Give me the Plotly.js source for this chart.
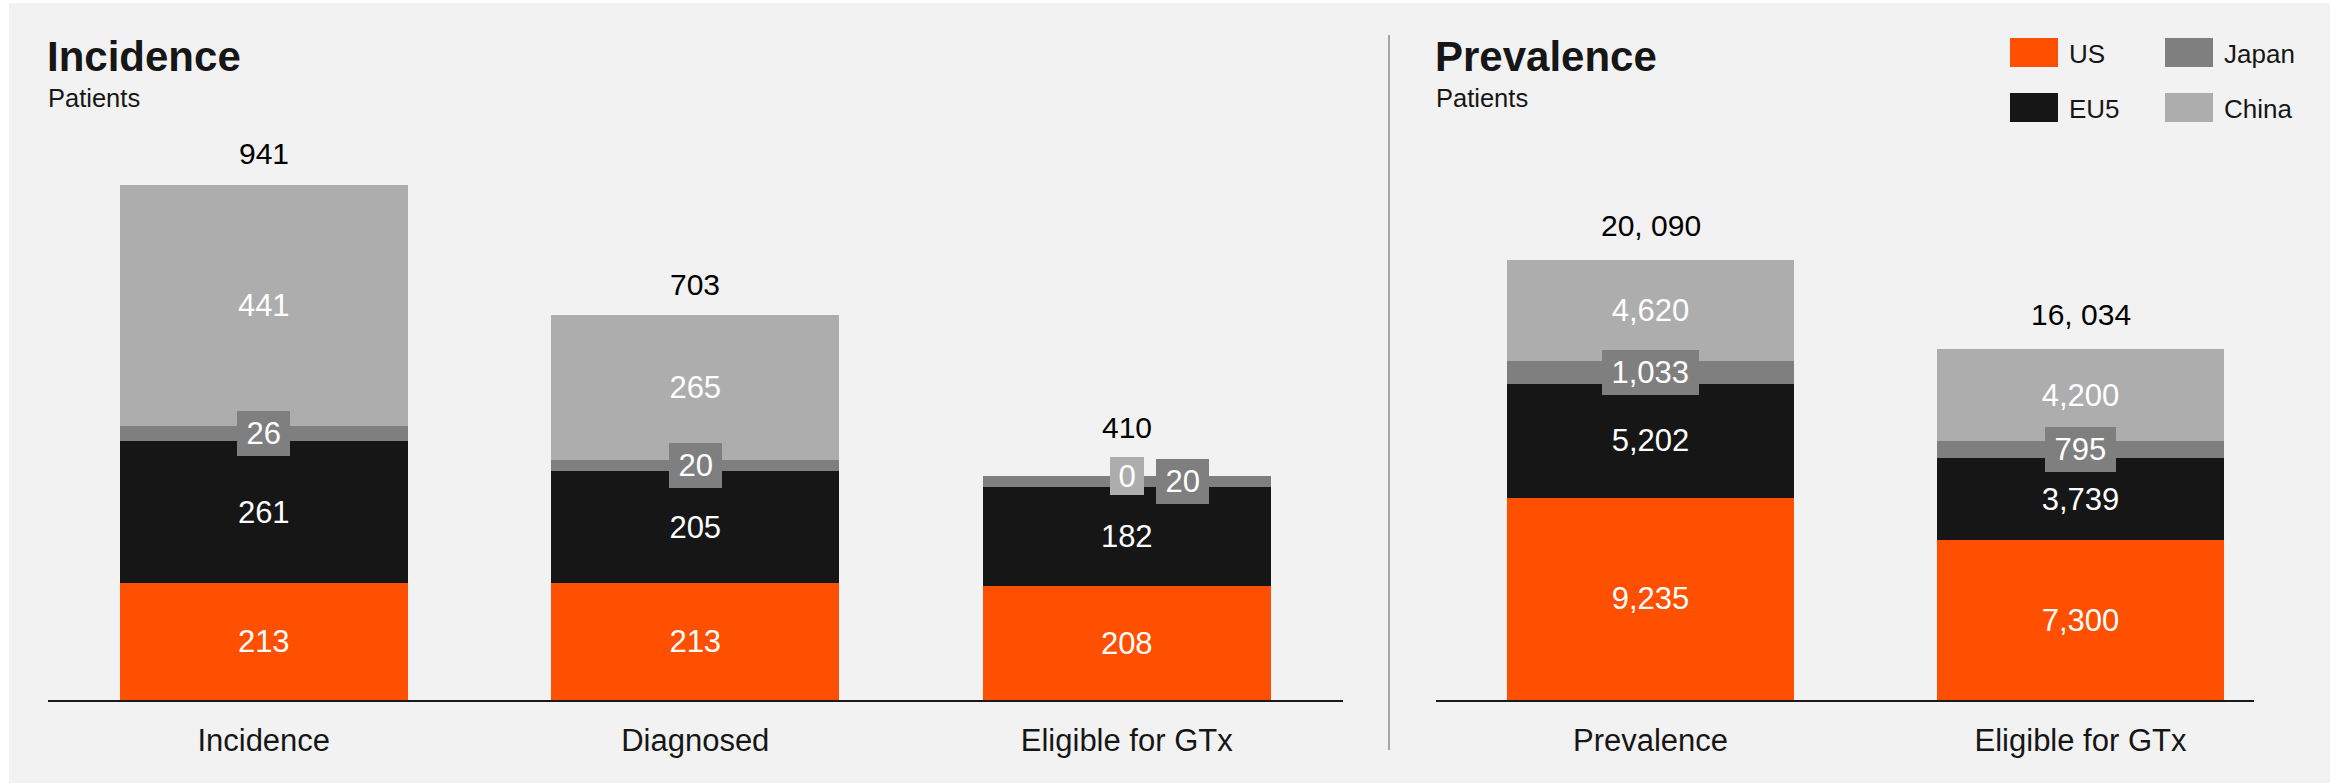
<!DOCTYPE html>
<html>
<head>
<meta charset="utf-8">
<script src="https://cdn.plot.ly/plotly-3.0.1.min.js"></script>
<style>
html,body{margin:0;padding:0;background:#ffffff;}
#chart{width:2351px;height:784px;}
</style>
</head>
<body>
<div id="chart"></div>
<script>
// ---------------- DATA ----------------
const incCategories = ['Incidence', 'Diagnosed', 'Eligible for GTx'];
const incUS    = [213, 213, 208];
const incEU5   = [261, 205, 182];
const incJapan = [26, 20, 20];
const incChina = [441, 265, 0];

const prevCategories = ['Prevalence', 'Eligible for GTx'];
const prevUS    = [9235, 7300];
const prevEU5   = [5202, 3739];
const prevJapan = [1033, 795];
const prevChina = [4620, 4200];

const seriesNames = ['US', 'EU5', 'Japan', 'China'];
const panelTitles = ['Incidence', 'Prevalence'];
const panelSubtitle = 'Patients';

// ---------------- STYLE ----------------
const W = 2351, H = 784;
const FONT = 'Liberation Sans, Arial, Helvetica, sans-serif';
const colors = {US: '#ff4f00', EU5: '#161616', Japan: '#7f7f7f', China: '#adadad'};
const TXT = '#161616';
const LBL = 31;
const px = x => x / W;
const py = y => 1 - y / H;

const fmt = v => v.toLocaleString('en-US');
const fmtTotal = v => v.toLocaleString('en-US').replace(/,/g, ', ');

const canvas = document.createElement('canvas');
const ctx = canvas.getContext('2d');
function textW(t, size) { ctx.font = size + 'px "Liberation Sans", Arial'; return ctx.measureText(t).width; }

const traces = [];
const annotations = [];

function buildPanel(cats, us, eu, jp, cn, xa, ya, lift, jpShift) {
  const series = {US: us, EU5: eu, Japan: jp, China: cn};
  seriesNames.forEach(name => {
    const vals = series[name];
    traces.push({
      type: 'bar', name: name, x: cats, y: vals,
      xaxis: xa, yaxis: ya,
      marker: {color: colors[name], line: {width: 0}},
      text: name === 'Japan' ? vals.map(() => '') : vals.map(v => v > 0 ? fmt(v) : ''),
      textposition: 'inside', insidetextanchor: 'middle', textangle: 0,
      constraintext: 'none',
      insidetextfont: {family: FONT, size: LBL, color: '#ffffff'},
      hoverinfo: 'skip', showlegend: false
    });
  });
  const xref = xa, yref = ya;
  cats.forEach((c, i) => {
    const base = us[i] + eu[i];
    // Japan label box
    annotations.push({
      xref: xref, yref: yref, x: c, y: base + jp[i] / 2,
      text: fmt(jp[i]), showarrow: false,
      font: {family: FONT, size: LBL, color: '#ffffff'},
      bgcolor: colors.Japan, borderwidth: 0, borderpad: 0,
      width: textW(fmt(jp[i]), LBL) + 19, height: 45,
      xshift: jpShift[i], xanchor: 'center', yanchor: 'middle'
    });
    // China zero label box
    if (cn[i] === 0) {
      annotations.push({
        xref: xref, yref: yref, x: c, y: base + jp[i] + cn[i] / 2,
        text: fmt(cn[i]), showarrow: false,
        font: {family: FONT, size: LBL, color: '#ffffff'},
        bgcolor: colors.China, borderwidth: 0, borderpad: 0,
        width: textW(fmt(cn[i]), LBL) + 17, height: 38,
        xanchor: 'center', yanchor: 'middle'
      });
    }
    // Total
    const total = us[i] + eu[i] + jp[i] + cn[i];
    annotations.push({
      xref: xref, yref: yref, x: c, y: total,
      text: fmtTotal(total), showarrow: false,
      font: {family: FONT, size: 30, color: '#000000'},
      xanchor: 'center', yanchor: 'middle', yshift: lift[i]
    });
  });
}

buildPanel(incCategories, incUS, incEU5, incJapan, incChina, 'x', 'y', [32, 31, 48], [0, 0, 56]);
buildPanel(prevCategories, prevUS, prevEU5, prevJapan, prevChina, 'x2', 'y2', [35, 35], [0, 0]);

// Titles
[[panelTitles[0], 44.5], [panelTitles[1], 1432.5]].forEach(([t, x]) => {
  annotations.push({xref: 'paper', yref: 'paper', x: px(x), y: py(56.5), xanchor: 'left', yanchor: 'middle',
    text: '<b>' + t + '</b>', showarrow: false, font: {family: FONT, size: 42, color: TXT}});
  annotations.push({xref: 'paper', yref: 'paper', x: px(x + 1), y: py(97.5), xanchor: 'left', yanchor: 'middle',
    text: panelSubtitle, showarrow: false, font: {family: FONT, size: 25.5, color: TXT}});
});

// Legend (drawn as shapes + text)
const legendPos = {US: [2010, 38], Japan: [2165, 38], EU5: [2010, 93], China: [2165, 93]};
const shapes = [
  {type: 'rect', xref: 'paper', yref: 'paper', x0: px(9), x1: px(2330), y0: py(783), y1: py(3),
   fillcolor: '#f2f2f2', line: {width: 0}, layer: 'below'},
  {type: 'line', xref: 'paper', yref: 'paper', x0: px(1389), x1: px(1389), y0: py(750), y1: py(35),
   line: {color: '#a6a6a6', width: 2}}
];
seriesNames.forEach(name => {
  const [lx, ly] = legendPos[name];
  shapes.push({type: 'rect', xref: 'paper', yref: 'paper', x0: px(lx), x1: px(lx + 48), y0: py(ly + 29), y1: py(ly),
    fillcolor: colors[name], line: {width: 0}});
  annotations.push({xref: 'paper', yref: 'paper', x: px(lx + 57), y: py(ly + 16), xanchor: 'left', yanchor: 'middle',
    text: name, showarrow: false, font: {family: FONT, size: 26, color: TXT}});
});

const axisBottom = 700;
const incScaleMax = 941 * axisBottom / (axisBottom - 185);
const prevScaleMax = 20090 * axisBottom / (axisBottom - 260.3);

const xCommon = {type: 'category', showline: true, linecolor: '#1a1a1a', linewidth: 2, ticks: '',
  showgrid: false, zeroline: false, fixedrange: true, ticklabelstandoff: 12,
  tickfont: {family: FONT, size: 31, color: TXT}};
const yCommon = {visible: false, showgrid: false, zeroline: false, fixedrange: true, domain: [1 - axisBottom / H, 1]};

// right panel: category spacing ~430 px, axis line ends shortly after the last bar
const rightLeft = 1435.5, rightEnd = 2254, rightStep = 430;
const rightRangeMax = -0.5 + (rightEnd - rightLeft) / rightStep;

const layout = {
  width: W, height: H,
  margin: {l: 0, r: 0, t: 0, b: 0, pad: 0},
  paper_bgcolor: '#ffffff', plot_bgcolor: 'rgba(0,0,0,0)',
  barmode: 'stack', bargap: 0.333, showlegend: false, hovermode: false,
  font: {family: FONT, color: TXT},
  xaxis: Object.assign({}, xCommon, {domain: [px(48), px(1342.5)], range: [-0.5, 2.5], anchor: 'y'}),
  yaxis: Object.assign({}, yCommon, {range: [0, incScaleMax], anchor: 'x'}),
  xaxis2: Object.assign({}, xCommon, {domain: [px(rightLeft), px(rightEnd)], range: [-0.5, rightRangeMax], anchor: 'y2'}),
  yaxis2: Object.assign({}, yCommon, {range: [0, prevScaleMax], anchor: 'x2'}),
  shapes: shapes,
  annotations: annotations
};

Plotly.newPlot('chart', traces, layout, {staticPlot: true, displayModeBar: false});
</script>
</body>
</html>
